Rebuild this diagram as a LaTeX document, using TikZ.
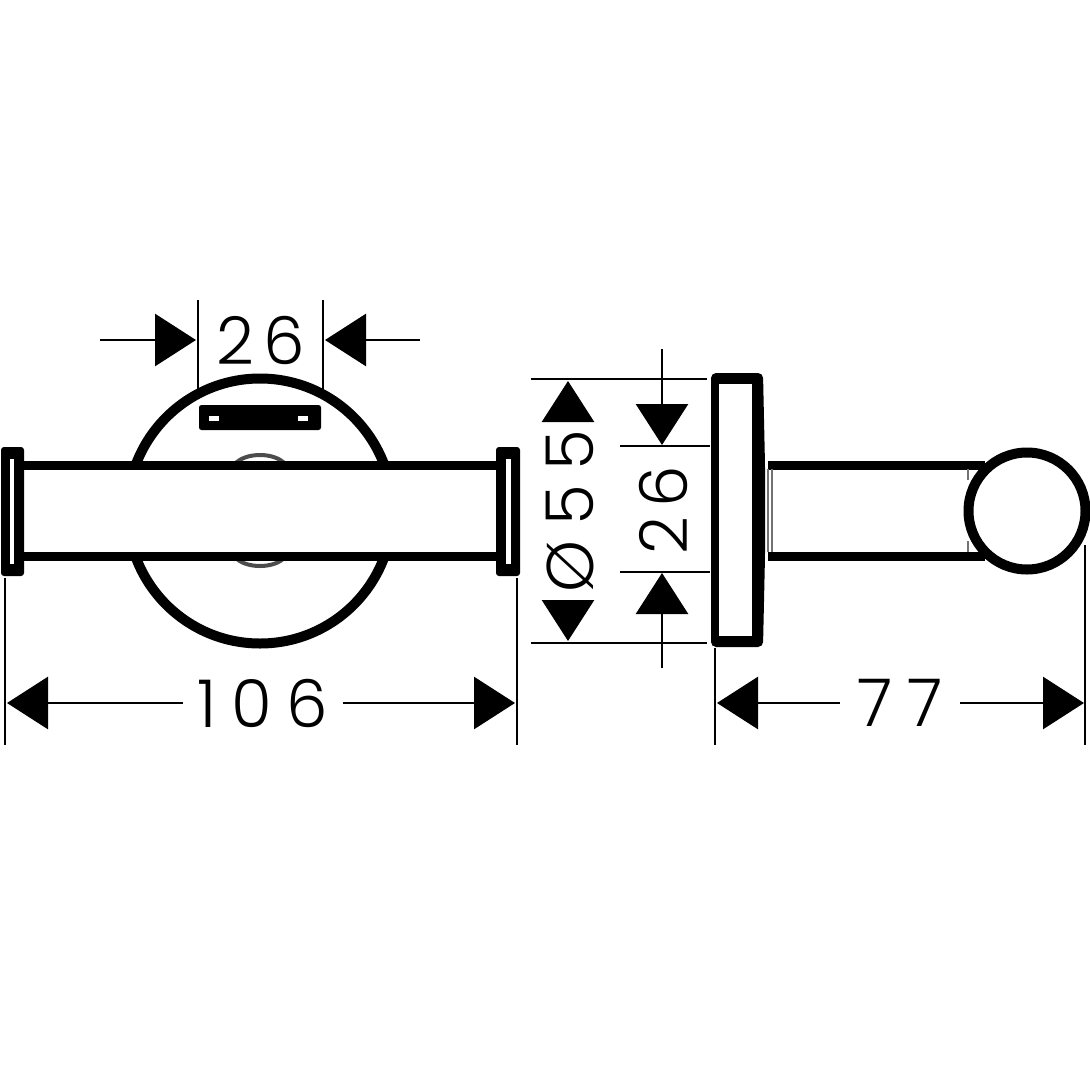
\documentclass[tikz,border=0pt]{standalone}
\usepackage{fontspec}
\setmainfont{Poppins Light}
\usetikzlibrary{arrows.meta}
\newfontfamily\dimfont[LetterSpace=14]{Poppins Light}
\newfontfamily\widefont[LetterSpace=22]{Poppins Light}
\tikzset{
 thick line/.style={line width=9pt,black},
 dimline/.style={line width=2.8pt,black},
 tipdim/.style={dimline,-{Triangle[length=41pt,width=52pt]}},
 dimtext/.style={inner sep=0pt,font=\dimfont\fontsize{66}{66}\selectfont},
 widetext/.style={inner sep=0pt,font=\widefont\fontsize{66}{66}\selectfont},
 faint/.style={line width=1.2pt,black!55},
}
\begin{document}
\begin{tikzpicture}[x=1pt,y=-1pt]
\useasboundingbox (0,0) rectangle (1090,1090);
% left view: rosette
\draw[line width=10pt,black] (260,511) circle (132.5);
\fill[white] (115,469) rectangle (405,552);
\fill[black,rounded corners=2.5pt] (199,405) rectangle (321,430);
\fill[white] (209,416) rectangle (219,421);
\fill[white] (298,416) rectangle (308,421);
% left view: centre bulges
\draw[line width=4pt,black!70] (235,464) .. controls (245,452) and (275,452) .. (285,464);
\draw[line width=4pt,black!70] (235,557) .. controls (245,569) and (275,569) .. (285,557);
% left view: bar
\draw[thick line] (20,465) -- (498,465);
\draw[thick line] (20,556) -- (498,556);
% left view: end caps
\fill[black,rounded corners=3pt] (1,447) rectangle (24,576);
\fill[white] (10,459) rectangle (14,564);
\fill[black,rounded corners=3pt] (496,447) rectangle (520,576);
\fill[white] (506,459) rectangle (511,564);
% left dims
\coordinate (a1) at (100,340); \coordinate (a1t) at (196,340);
\coordinate (a2) at (420,340); \coordinate (a2t) at (325,340);
\draw[tipdim] (a1) -- (a1t);
\draw[tipdim] (a2) -- (a2t);
\draw[dimline] (198,300) -- (198,393);
\draw[dimline] (323,300) -- (323,393);
\node[dimtext] (t26a) at (261,340) {26};
\draw[dimline] (5,578) -- (5,745);
\draw[dimline] (517,578) -- (517,745);
\node[widetext] (t106) at (263,703) {106};
\coordinate (b1) at (183,703); \coordinate (b1t) at (7,703);
\coordinate (b2) at (343,703); \coordinate (b2t) at (515,703);
\draw[tipdim] (b1) -- (b1t);
\draw[tipdim] (b2) -- (b2t);
% right view: stem
\draw[thick line] (768,465) -- (985,465);
\draw[thick line] (768,556) -- (985,556);
\draw[faint] (772,469) -- (772,552);
\draw[faint] (768,469) -- (768,552);
\draw[faint] (968,469) -- (968,480);
\draw[faint] (968,541) -- (968,552);
% right view: plate
\fill[black,rounded corners=5pt] (711,373) -- (763,373) -- (765,465) -- (765,556) -- (763,647) -- (711,647) -- cycle;
\fill[white] (719,384) rectangle (752,636);
% right view: ball
\draw[line width=10pt,black,fill=white] (1027,511) circle (58.5);
% right dims
\draw[dimline] (531,379) -- (707,379);
\draw[dimline] (531,643) -- (707,643);
\draw[dimline] (620,446) -- (710,446);
\draw[dimline] (620,572) -- (710,572);
\coordinate (c1) at (568,422); \coordinate (c1t) at (568,381);
\coordinate (c2) at (568,600); \coordinate (c2t) at (568,641);
\draw[tipdim] (c1) -- (c1t);
\draw[tipdim] (c2) -- (c2t);
\node[widetext,rotate=90] (t55) at (570,511) {Ø55};
\coordinate (d1) at (662,349); \coordinate (d1t) at (662,445);
\coordinate (d2) at (662,668); \coordinate (d2t) at (662,573);
\draw[tipdim] (d1) -- (d1t);
\draw[tipdim] (d2) -- (d2t);
\node[dimtext,rotate=90] (t26b) at (663,510) {26};
\draw[dimline] (715,648) -- (715,745);
\draw[dimline] (1085,545) -- (1085,745);
\node[widetext] (t77) at (900,703) {77};
\coordinate (e1) at (840,703); \coordinate (e1t) at (717,703);
\coordinate (e2) at (960,703); \coordinate (e2t) at (1084,703);
\draw[tipdim] (e1) -- (e1t);
\draw[tipdim] (e2) -- (e2t);
\end{tikzpicture}
\end{document}
